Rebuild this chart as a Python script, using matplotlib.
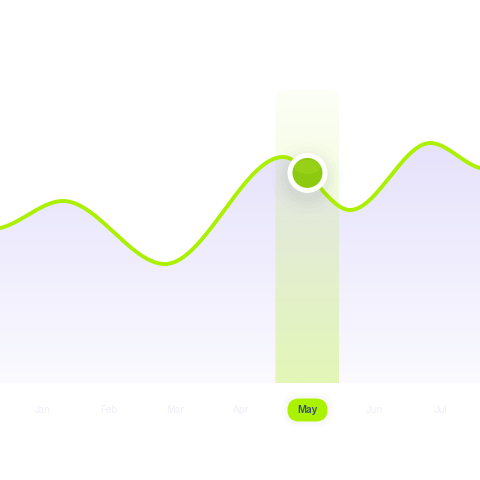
import matplotlib.pyplot as plt
import numpy as np
from matplotlib.colors import to_rgb
from matplotlib.patches import Ellipse, FancyBboxPatch

# month labels sit at integer positions on the x axis
months = ['Jan', 'Feb', 'Mar', 'Apr', 'May', 'Jun', 'Jul']
selected = 'May'

# curve knots (x in month units, y in value units)
knot_x = [-0.633, 0.317, 1.854, 3.633, 4.643, 5.849, 6.6]
knot_y = [62.0, 72.8, 47.6, 90.4, 69.2, 96.0, 86.0]

LINE = '#aaf000'
AREA_TOP = '#e6e2fc'
AREA_BOTTOM = '#fafaff'
LABEL = '#efeff9'
SEL_TEXT = '#3a4a70'
DOT = '#8cc90f'

XMIN, XMAX = -0.633, 6.6
YMIN, YMAX = -38.8, 153.2
W = H = 480
PX_X = W / (XMAX - XMIN)
PX_Y = H / (YMAX - YMIN)


def pchip(xk, yk, xs):
    xk = np.asarray(xk); yk = np.asarray(yk)
    h = np.diff(xk)
    d = np.diff(yk) / h
    m = np.zeros_like(yk)
    for i in range(1, len(xk) - 1):
        if d[i - 1] * d[i] > 0:
            w1 = 2 * h[i] + h[i - 1]
            w2 = h[i] + 2 * h[i - 1]
            m[i] = (w1 + w2) / (w1 / d[i - 1] + w2 / d[i])
    m[0] = d[0] * 0.5
    m[-1] = d[-1] * 0.5
    out = np.empty_like(xs)
    for j, x in enumerate(xs):
        i = min(max(np.searchsorted(xk, x) - 1, 0), len(xk) - 2)
        t = (x - xk[i]) / h[i]
        h00 = 2*t**3 - 3*t**2 + 1
        h10 = t**3 - 2*t**2 + t
        h01 = -2*t**3 + 3*t**2
        h11 = t**3 - t**2
        out[j] = h00*yk[i] + h10*h[i]*m[i] + h01*yk[i+1] + h11*h[i]*m[i+1]
    return out


xs = np.linspace(XMIN, XMAX, 600)
ys = pchip(knot_x, knot_y, xs)

fig = plt.figure(figsize=(4.8, 4.8), dpi=100)
ax = fig.add_axes([0, 0, 1, 1])
ax.set_xlim(XMIN, XMAX)
ax.set_ylim(YMIN, YMAX)
ax.set_axis_off()

# area with vertical gradient
top_c = np.array(to_rgb(AREA_TOP)); bot_c = np.array(to_rgb(AREA_BOTTOM))
t = np.linspace(0, 1, 256)[:, None]
grad = top_c * (1 - t[..., None]) + bot_c * t[..., None]
grad = np.repeat(grad, 2, axis=1)
area = ax.fill_between(xs, ys, 0, color='none', lw=0)
img = ax.imshow(grad, extent=[XMIN, XMAX, 0, max(ys)], aspect='auto',
                origin='upper', zorder=1)
img.set_clip_path(area.get_paths()[0], transform=ax.transData)

# highlight band for the selected month
sx = months.index(selected)
bw = 64 / PX_X
btop = (383 - 90) / PX_Y
aspect = PX_X / PX_Y
band_clip = FancyBboxPatch((sx - 0.5 * bw, -20), bw, btop + 20,
                           boxstyle=f'round,pad=0,rounding_size={11 / PX_X}',
                           mutation_aspect=aspect, fc='none', ec='none')
ax.add_patch(band_clip)
bc = np.array(to_rgb('#b4f01e'))
alpha = np.linspace(0.04, 0.32, 256)[:, None]
band = np.zeros((256, 2, 4))
band[..., :3] = bc
band[..., 3] = alpha
bimg = ax.imshow(band, extent=[sx - 0.5 * bw, sx + 0.5 * bw, 0, btop],
                 aspect='auto', origin='upper', zorder=2)
bimg.set_clip_path(band_clip)

ax.plot(xs, ys, color=LINE, lw=2.8, zorder=3, solid_capstyle='round')

# selected point
py = pchip(knot_x, knot_y, np.array([float(sx)]))[0]
for r, a in [(36, 0.012), (31, 0.016), (27, 0.022), (23, 0.03)]:
    ax.add_patch(Ellipse((sx, py - 5 / PX_Y), 2 * r / PX_X, 2 * r / PX_Y,
                         fc='#5a6070', ec='none', alpha=a, zorder=4))
ax.add_patch(Ellipse((sx, py), 40 / PX_X, 40 / PX_Y, fc='white', ec='none', zorder=5))
ax.add_patch(Ellipse((sx, py), 30 / PX_X, 30 / PX_Y, fc=DOT, ec='none', zorder=6))
ax.add_patch(Ellipse((sx, py + 6 / PX_Y), 26 / PX_X, 14 / PX_Y, fc='#a6dc22',
                     ec='none', alpha=0.45, zorder=6))

# month labels
ly = -27 / PX_Y
for i, m in enumerate(months):
    if m == selected:
        pw, ph = 40 / PX_X, 23 / PX_Y
        for g, a in [(6, 0.02), (3, 0.03)]:
            ax.add_patch(FancyBboxPatch((i - pw / 2 - g / PX_X, ly - ph / 2 - g / PX_Y),
                                        pw + 2 * g / PX_X, ph + 2 * g / PX_Y,
                                        boxstyle=f'round,pad=0,rounding_size={(11.5 + g) / PX_X}',
                                        mutation_aspect=aspect, fc='#8890a0', ec='none',
                                        alpha=a, zorder=4))
        ax.add_patch(FancyBboxPatch((i - pw / 2, ly - ph / 2), pw, ph,
                                    boxstyle=f'round,pad=0,rounding_size={11.5 / PX_X}',
                                    mutation_aspect=aspect, fc='#abf200', ec='none', zorder=5))
        ax.text(i, ly, m, ha='center', va='center', fontsize=7, color=SEL_TEXT,
                family='Inter', fontweight='semibold', zorder=6)
    else:
        ax.text(i, ly, m, ha='center', va='center', fontsize=7, color=LABEL,
                family='Inter', zorder=6)

fig.savefig('out.png', dpi=100)
